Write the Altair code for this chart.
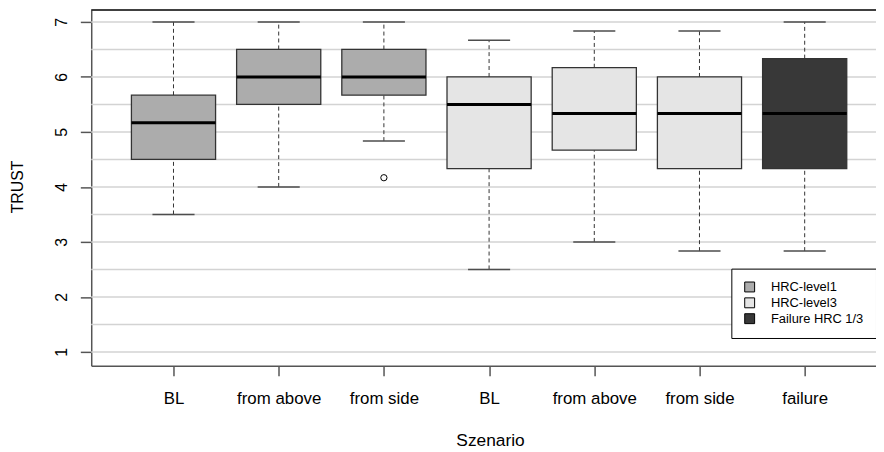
import json
import altair as alt
import pandas as pd

# ---- data ----
scenarios = ["BL", "from above", "from side", "BL", "from above", "from side", "failure"]
positions = [1, 2, 3, 4, 5, 6, 7]
groups = ["HRC-level1", "HRC-level1", "HRC-level1",
          "HRC-level3", "HRC-level3", "HRC-level3", "Failure HRC 1/3"]
lower = [3.5, 4.0, 4.833, 2.5, 3.0, 2.833, 2.833]
q1 = [4.5, 5.5, 5.667, 4.333, 4.667, 4.333, 4.333]
median = [5.167, 6.0, 6.0, 5.5, 5.333, 5.333, 5.333]
q3 = [5.667, 6.5, 6.5, 6.0, 6.167, 6.0, 6.333]
upper = [7.0, 7.0, 7.0, 6.667, 6.833, 6.833, 7.0]
outlier_pos = [3]
outlier_val = [4.167]

legend_groups = ["HRC-level1", "HRC-level3", "Failure HRC 1/3"]
legend_colors = ["#acacac", "#e5e5e5", "#383838"]
y_ticks = [1, 2, 3, 4, 5, 6, 7]
grid_vals = [1, 1.5, 2, 2.5, 3, 3.5, 4, 4.5, 5, 5.5, 6, 6.5, 7]

FONT = "Liberation Sans"

boxes = pd.DataFrame({
    "pos": positions, "scenario": scenarios, "group": groups,
    "lower": lower, "q1": q1, "median": median, "q3": q3, "upper": upper,
})
outliers = pd.DataFrame({"pos": outlier_pos, "val": outlier_val})
grid_df = pd.DataFrame({"g": grid_vals})
frame_df = pd.DataFrame({"k": [0]})

xscale = alt.Scale(domain=[0.218, 7.678], nice=False, zero=False)
yscale = alt.Scale(domain=[0.748, 7.216], nice=False, zero=False)

xaxis = alt.Axis(
    values=positions,
    labelExpr=json.dumps(scenarios) + "[datum.value - 1]",
    title="Szenario", grid=False,
    tickSize=10, tickColor="#555555", tickWidth=1.5,
    domainColor="#555555", domainWidth=1.5,
    labelFont=FONT, labelFontSize=17, labelColor="black",
    labelPadding=28.5, labelBaseline="alphabetic",
    labelFlush=False, labelOverlap=False,
    titleFont=FONT, titleFontSize=17.5, titleFontWeight="normal", titleColor="black",
    titleX=402.5, titleY=80.7, titleAlign="center", titleBaseline="alphabetic",
)
yaxis = alt.Axis(
    values=y_ticks, format="d", title="TRUST", grid=False,
    tickSize=11, tickColor="#555555", tickWidth=1.5,
    domainColor="#555555", domainWidth=1.5,
    labelFont=FONT, labelFontSize=16, labelColor="black",
    labelAngle=270, labelAlign="center", labelBaseline="middle",
    labelPadding=19, labelFlush=False, labelOverlap=False,
    titleFont=FONT, titleFontSize=16, titleFontWeight="normal", titleColor="black",
    titleAngle=270, titleX=-74, titleY=178, titleAlign="center", titleBaseline="middle",
)


def X(field):
    return alt.X(field, type="quantitative", scale=xscale, axis=xaxis, title="Szenario")


def Y(field):
    return alt.Y(field, type="quantitative", scale=yscale, axis=yaxis, title="TRUST")


grid = alt.Chart(grid_df).mark_rule(color="#d3d3d3", strokeWidth=1.5).encode(y=Y("g"))

top_border = alt.Chart(frame_df).mark_rule(color="black", strokeWidth=1.5).encode(
    y=alt.value(0)
)

base = alt.Chart(boxes).transform_calculate(
    xl="datum.pos - 0.4", xr="datum.pos + 0.4",
    cl="datum.pos - 0.2", cr="datum.pos + 0.2",
)

whisk_hi = base.mark_rule(color="#333333", strokeWidth=1, strokeDash=[4, 3]).encode(
    x=X("pos"), y=Y("q3"), y2="upper"
)
whisk_lo = base.mark_rule(color="#333333", strokeWidth=1, strokeDash=[4, 3]).encode(
    x=X("pos"), y=Y("lower"), y2="q1"
)
cap_hi = base.mark_rule(color="#4d4d4d", strokeWidth=1.5).encode(
    x=X("cl"), x2="cr", y=Y("upper")
)
cap_lo = base.mark_rule(color="#4d4d4d", strokeWidth=1.5).encode(
    x=X("cl"), x2="cr", y=Y("lower")
)

box = base.mark_rect(stroke="#333333", strokeWidth=1.3, opacity=1).encode(
    x=X("xl"), x2="xr", y=Y("q1"), y2="q3",
    fill=alt.Fill(
        "group:N",
        scale=alt.Scale(domain=legend_groups, range=legend_colors),
        legend=alt.Legend(
            title=None, orient="none", legendX=646, legendY=261,
            direction="vertical", strokeColor="black", fillColor="white",
            padding=12, symbolType="square", symbolSize=100,
            symbolStrokeColor="black", symbolStrokeWidth=1, symbolOpacity=1,
            labelFont=FONT, labelFontSize=13, labelColor="black",
            labelOffset=15, rowPadding=1, labelLimit=300,
        ),
    ),
)

med = base.mark_rule(color="black", strokeWidth=3).encode(
    x=X("xl"), x2="xr", y=Y("median")
)

outl = alt.Chart(outliers).mark_point(
    shape="circle", filled=False, color="black", size=40, strokeWidth=1, opacity=1
).encode(x=X("pos"), y=Y("val"))

chart = alt.layer(
    grid, top_border, whisk_hi, whisk_lo, cap_hi, cap_lo, box, med, outl
).properties(
    width=792, height=359,
    padding={"left": 84, "top": 0, "right": 0, "bottom": 85},
    autosize=alt.AutoSizeParams(type="none"),
).configure_view(stroke=None).configure_legend(cornerRadius=0)

chart.save("out.html", embed_options={"renderer": "svg", "actions": False})
